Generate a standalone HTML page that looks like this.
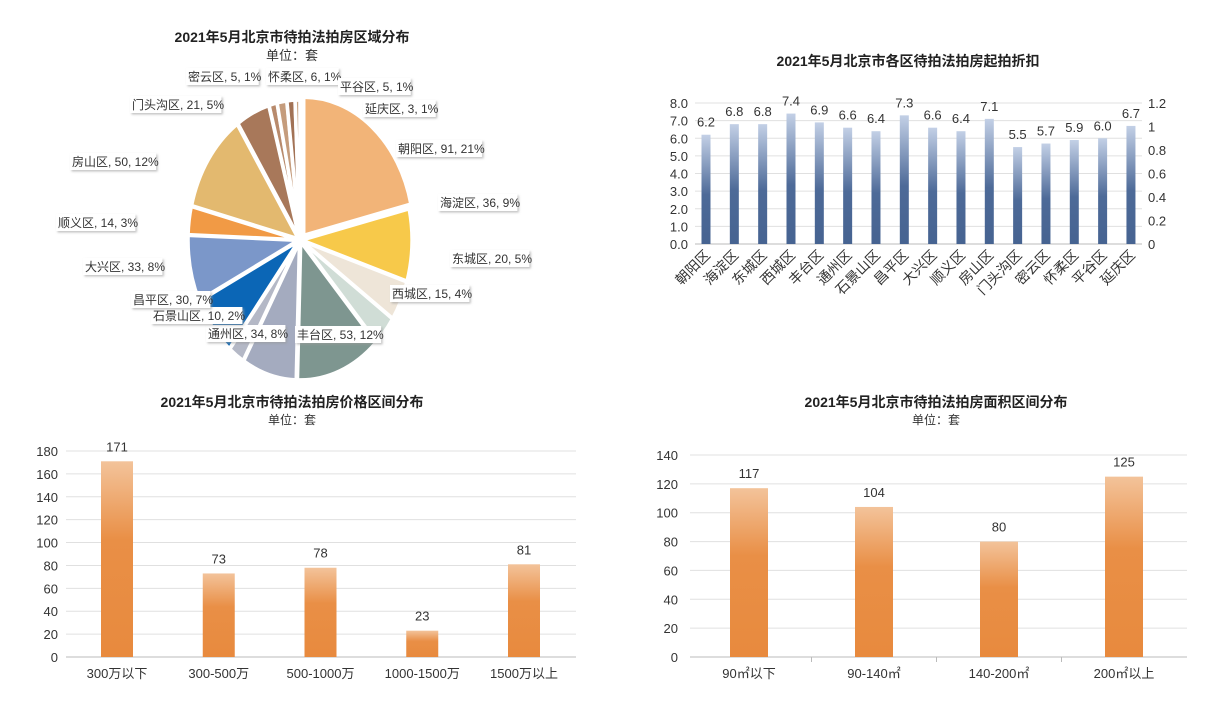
<!DOCTYPE html>
<html><head><meta charset="utf-8">
<style>
body{margin:0;background:#fff;font-family:"Liberation Sans","Noto Sans CJK SC",sans-serif;}
svg text{font-family:"Liberation Sans","Noto Sans CJK SC",sans-serif;}
</style></head>
<body>
<svg id="s" width="1219" height="705" xmlns="http://www.w3.org/2000/svg">
<defs>
<linearGradient id="gb" x1="0" y1="0" x2="0" y2="1"><stop offset="0" stop-color="#c3d0e6"/><stop offset="0.55" stop-color="#4d6a98"/><stop offset="1" stop-color="#466391"/></linearGradient>
<linearGradient id="go" x1="0" y1="0" x2="0" y2="1"><stop offset="0" stop-color="#f3c39a"/><stop offset="0.4" stop-color="#e98f46"/><stop offset="1" stop-color="#e88a3e"/></linearGradient>
<filter id="sh" x="-10%" y="-20%" width="130%" height="160%"><feDropShadow dx="1.5" dy="1.5" stdDeviation="1" flood-color="#999" flood-opacity="0.6"/></filter>
</defs>
<g id="pie"></g>
<g id="c2"></g>
<g id="c3"></g>
<g id="c4"></g>
</svg>
<script>
const pieNames=["朝阳区","海淀区","东城区","西城区","丰台区","通州区","石景山区","昌平区","大兴区","顺义区","房山区","门头沟区","密云区","怀柔区","平谷区","延庆区"];
const pieValues=[91,36,20,15,53,34,10,30,33,14,50,21,5,6,5,3];
const piePct=["21%","9%","5%","4%","12%","8%","2%","7%","8%","3%","12%","5%","1%","1%","1%","1%"];
const discNames=["朝阳区","海淀区","东城区","西城区","丰台区","通州区","石景山区","昌平区","大兴区","顺义区","房山区","门头沟区","密云区","怀柔区","平谷区","延庆区"];
const discValues=[6.2,6.8,6.8,7.4,6.9,6.6,6.4,7.3,6.6,6.4,7.1,5.5,5.7,5.9,6.0,6.7];
const discTicks=[0,1,2,3,4,5,6,7,8];
const discRightTicks=["0","0.2","0.4","0.6","0.8","1","1.2"];
const priceCats=["300万以下","300-500万","500-1000万","1000-1500万","1500万以上"];
const priceValues=[171,73,78,23,81];
const priceTicks=[0,20,40,60,80,100,120,140,160,180];
const areaCats=["90㎡以下","90-140㎡","140-200㎡","200㎡以上"];
const areaValues=[117,104,80,125];
const areaTicks=[0,20,40,60,80,100,120,140];

const NS="http://www.w3.org/2000/svg";
function mk(parent,tag,attrs,text){const e=document.createElementNS(NS,tag);for(const k in attrs)e.setAttribute(k,attrs[k]);if(text!==undefined)e.textContent=text;parent.appendChild(e);return e;}

// PIE
(function(){
const g=document.getElementById('pie');
let t=mk(g,'text',{x:292,y:42,'text-anchor':'middle','font-size':14,'font-weight':'bold',fill:'#222'},'2021年5月北京市待拍法拍房区域分布');

t=mk(g,'text',{x:292,y:60,'text-anchor':'middle','font-size':13,fill:'#333'},'单位：套');

const colors=["#f2b478","#f7c94a","#eee5d8","#d0ddd6","#7e9690","#a4abbf","#b4b8c6","#0b66b6","#7b97c9","#f19a45","#e3b96f","#a8785a","#b88a6c","#c59c7c","#a27255","#c9a483"];
const cx=300,cy=240,rx=110,ry=138;
const total=pieValues.reduce((a,b)=>a+b,0);
let a0=0;
const lbl=[[398,152],[440,206],[452,262],[392,297],[297,338],[208,337],[153,319],[133,303],[85,270],[58,226],[72,165],[132,108],[188,80],[268,80],[340,90],[365,112]];
const lg=mk(g,'g',{});
pieValues.forEach((v,i)=>{
 const a1=a0+v/total*2*Math.PI;
 const mid=(a0+a1)/2;const off=i===0?6:2;
 const ox=Math.sin(mid)*off,oy=-Math.cos(mid)*off;
 const p=(a)=>[cx+ox+rx*Math.sin(a),cy+oy-ry*Math.cos(a)];
 const [x0,y0]=p(a0),[x1,y1]=p(a1);
 const large=(a1-a0)>Math.PI?1:0;
 const s=mk(g,'path',{d:`M${cx+ox},${cy+oy}L${x0},${y0}A${rx},${ry} 0 ${large} 1 ${x1},${y1}Z`,fill:colors[i],stroke:'#fff','stroke-width':3.5});
 
 
 a0=a1;
});
g.appendChild(lg);
pieValues.forEach((v,i)=>{
 const txt=pieNames[i]+', '+v+', '+piePct[i];
 let w=3;for(const ch of txt)w+=ch.charCodeAt(0)>255?12:(ch===' '||ch===','?3.4:6.7);
 const [lx,ly]=lbl[i];
 const r=mk(lg,'rect',{x:lx-2,y:ly-12,width:w,height:17,fill:'#fff',filter:'url(#sh)'});
 
 
 const tt=mk(lg,'text',{x:lx,y:ly+1,'font-size':12,fill:'#333'},txt);
 
 
});
})();

// CHART 2
(function(){
const g=document.getElementById('c2');
let t=mk(g,'text',{x:908,y:66,'text-anchor':'middle','font-size':14,'font-weight':'bold',fill:'#222'},'2021年5月北京市各区待拍法拍房起拍折扣');

const y0=244,y1=103,maxV=8;const Y=v=>y0-(y0-y1)*v/maxV;
const x0=706,step=28.33;const X=i=>x0+i*step;
discTicks.forEach(v=>{
 const l=mk(g,'line',{x1:695,x2:1142,y1:Y(v),y2:Y(v),stroke:v===0?'#bbb':'#e0e0e0','stroke-width':1});
 
 const tx=mk(g,'text',{x:688,y:Y(v)+5,'text-anchor':'end','font-size':13,fill:'#333'},v.toFixed(1));
 
});
discRightTicks.forEach((s,i)=>{
 const yy=y0-(y0-y1)*(i/6);
 const tx=mk(g,'text',{x:1148,y:yy+5,'font-size':13,fill:'#333'},s);
 
});
discValues.forEach((v,i)=>{
 const b=mk(g,'rect',{x:X(i)-4.5,y:Y(v),width:9,height:y0-Y(v),fill:'url(#gb)'});
 
 const vl=mk(g,'text',{x:X(i),y:Y(v)-8,'text-anchor':'middle','font-size':13,fill:'#333'},v.toFixed(1));
 
 const cl=mk(g,'text',{x:X(i)+5,y:256,'text-anchor':'end','font-size':14,fill:'#333',transform:`rotate(-45 ${X(i)+5} 256)`},discNames[i]);
 
});
})();

function barChart(id,title,sub,cx,cats,vals,ticks,maxV,y0,y1,gl,gr,labX,xs,bw,tick){
const g=document.getElementById(id);
let t=mk(g,'text',{x:cx,y:407,'text-anchor':'middle','font-size':14,'font-weight':'bold',fill:'#222'},title);

t=mk(g,'text',{x:cx,y:424,'text-anchor':'middle','font-size':12,fill:'#333'},sub);

const Y=v=>y0-(y0-y1)*v/maxV;
ticks.forEach(v=>{
 const l=mk(g,'line',{x1:gl,x2:gr,y1:Y(v),y2:Y(v),stroke:v===0?'#bbb':'#e0e0e0','stroke-width':1});
 
 const tx=mk(g,'text',{x:labX,y:Y(v)+5,'text-anchor':'end','font-size':13,fill:'#333'},String(v));
 
});
if(tick){cats.forEach((c,i)=>{if(i>0){const tl=mk(g,'line',{x1:(xs(i)+xs(i-1))/2,x2:(xs(i)+xs(i-1))/2,y1:y0,y2:y0+5,stroke:'#bbb'});}});}
vals.forEach((v,i)=>{
 const b=mk(g,'rect',{x:xs(i)-bw/2,y:Y(v),width:bw,height:y0-Y(v),fill:'url(#go)'});
 
 const vl=mk(g,'text',{x:xs(i),y:Y(v)-10,'text-anchor':'middle','font-size':13,fill:'#333'},String(v));
 
 const cl=mk(g,'text',{x:xs(i),y:678,'text-anchor':'middle','font-size':13,fill:'#333'},cats[i]);
 
});
}
barChart('c3','2021年5月北京市待拍法拍房价格区间分布','单位：套',292,priceCats,priceValues,priceTicks,180,657,451,66,576,58,i=>117+i*101.75,32,false);
barChart('c4','2021年5月北京市待拍法拍房面积区间分布','单位：套',936,areaCats,areaValues,areaTicks,140,657,455,690,1187,678,i=>749+i*125,38,true);
</script>
</body></html>
